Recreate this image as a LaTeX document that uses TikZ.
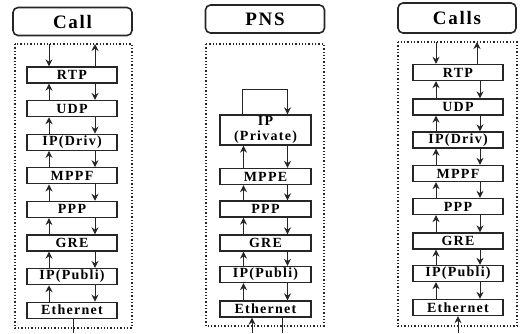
\documentclass[tikz,border=0pt]{standalone}
\usepackage{fontspec}
\setmainfont{Liberation Serif}
\newfontfamily\stackfont{Liberation Serif}[LetterSpace=9]
\usetikzlibrary{arrows.meta}

\begin{document}
\begin{tikzpicture}[
    x=1pt, y=-1pt,
    title/.style={draw=black!85, line width=1.6pt, rectangle, rounded corners=5pt, minimum width=119pt, minimum height=28pt, inner sep=0pt, font=\stackfont\fontsize{19}{21}\selectfont\bfseries},
    layer/.style={draw=black!85, line width=1.3pt, rectangle, minimum width=90pt, minimum height=16pt, inner sep=0pt, font=\stackfont\fontsize{14}{15}\selectfont\bfseries},
    frame/.style={draw=black!85, line width=1.3pt, dotted},
    arrow/.style={-{Stealth[length=7pt, width=7pt]}, black!85, line width=1pt},
    link/.style={black!85, line width=1pt}
]
\useasboundingbox (0,0) rectangle (522,333);

% Frames
\draw[frame] (15,44) rectangle (132,328);
\draw[frame] (206,44) rectangle (324,326);
\draw[frame] (398,42) rectangle (517,326);

% Call stack
\node[title] (call) at (72.5,21.5) {Call};
\node[layer] (c-rtp) at (72,75)    {RTP};
\node[layer] (c-udp) at (72,108.6) {UDP};
\node[layer] (c-ipd) at (72,142.2) {IP(Driv)};
\node[layer] (c-mpp) at (72,175.8) {MPPF};
\node[layer] (c-ppp) at (72,209.4) {PPP};
\node[layer] (c-gre) at (72,243)   {GRE};
\node[layer] (c-ipp) at (72,276.6) {IP(Publi)};
\node[layer] (c-eth) at (72,310.2) {Ethernet};

\coordinate (c-in)   at (49,44);
\coordinate (c-out)  at (95,44);
\coordinate (c-base) at (73,333);

\draw[arrow] (c-in) -- (c-rtp.north -| c-in);
\draw[arrow] (c-rtp.north -| c-out) -- (c-out);
\draw[arrow] ([xshift=-23pt]c-udp.north) -- ([xshift=-23pt]c-rtp.south);
\draw[arrow] ([xshift=23pt]c-rtp.south) -- ([xshift=23pt]c-udp.north);
\draw[arrow] ([xshift=-23pt]c-ipd.north) -- ([xshift=-23pt]c-udp.south);
\draw[arrow] ([xshift=23pt]c-udp.south) -- ([xshift=23pt]c-ipd.north);
\draw[arrow] ([xshift=-23pt]c-mpp.north) -- ([xshift=-23pt]c-ipd.south);
\draw[arrow] ([xshift=23pt]c-ipd.south) -- ([xshift=23pt]c-mpp.north);
\draw[arrow] ([xshift=-23pt]c-ppp.north) -- ([xshift=-23pt]c-mpp.south);
\draw[arrow] ([xshift=23pt]c-mpp.south) -- ([xshift=23pt]c-ppp.north);
\draw[arrow] ([xshift=-23pt]c-gre.north) -- ([xshift=-23pt]c-ppp.south);
\draw[arrow] ([xshift=23pt]c-ppp.south) -- ([xshift=23pt]c-gre.north);
\draw[arrow] ([xshift=-23pt]c-ipp.north) -- ([xshift=-23pt]c-gre.south);
\draw[arrow] ([xshift=23pt]c-gre.south) -- ([xshift=23pt]c-ipp.north);
\draw[arrow] ([xshift=-23pt]c-eth.north) -- ([xshift=-23pt]c-ipp.south);
\draw[arrow] ([xshift=23pt]c-ipp.south) -- ([xshift=23pt]c-eth.north);
\draw[link] (c-eth.south -| c-base) -- (c-base);

% PNS stack
\node[title] (pns) at (265,19) {PNS};
\node[layer, minimum width=91pt, minimum height=30pt, align=center] (p-ip) at (265.5,130) {IP\\(Private)};
\node[layer, minimum width=91pt] (p-mpp) at (265.5,176.5) {MPPE};
\node[layer, minimum width=91pt] (p-ppp) at (265.5,209)   {PPP};
\node[layer, minimum width=91pt] (p-gre) at (265.5,243)   {GRE};
\node[layer, minimum width=91pt] (p-ipp) at (265.5,274.5) {IP(Publi)};
\node[layer, minimum width=91pt] (p-eth) at (265.5,309)   {Ethernet};

\coordinate (p-in)  at (252,333);
\coordinate (p-out) at (282,333);

\draw[arrow] ([xshift=-23pt]p-ip.north) -- ++(0,-25) -| ([xshift=22pt]p-ip.north);
\draw[arrow] ([xshift=-22pt]p-mpp.north) -- ([xshift=-22pt]p-ip.south);
\draw[arrow] ([xshift=22pt]p-ip.south) -- ([xshift=22pt]p-mpp.north);
\draw[arrow] ([xshift=-22pt]p-ppp.north) -- ([xshift=-22pt]p-mpp.south);
\draw[arrow] ([xshift=22pt]p-mpp.south) -- ([xshift=22pt]p-ppp.north);
\draw[arrow] ([xshift=-22pt]p-gre.north) -- ([xshift=-22pt]p-ppp.south);
\draw[arrow] ([xshift=22pt]p-ppp.south) -- ([xshift=22pt]p-gre.north);
\draw[arrow] ([xshift=-22pt]p-ipp.north) -- ([xshift=-22pt]p-gre.south);
\draw[arrow] ([xshift=22pt]p-gre.south) -- ([xshift=22pt]p-ipp.north);
\draw[arrow] ([xshift=-22pt]p-eth.north) -- ([xshift=-22pt]p-ipp.south);
\draw[arrow] ([xshift=22pt]p-ipp.south) -- ([xshift=22pt]p-eth.north);
\draw[arrow] (p-in) -- (p-eth.south -| p-in);
\draw[link] (p-eth.south -| p-out) -- (p-out);

% Calls stack
\node[title, minimum width=118pt, minimum height=30pt] (calls) at (457,18) {Calls};
\node[layer] (s-rtp) at (458,72.5)  {RTP};
\node[layer] (s-udp) at (458,107)   {UDP};
\node[layer] (s-ipd) at (458,140)   {IP(Driv)};
\node[layer] (s-mpp) at (458,173.5) {MPPF};
\node[layer] (s-ppp) at (458,206.5) {PPP};
\node[layer] (s-gre) at (458,241)   {GRE};
\node[layer] (s-ipp) at (458,273.5) {IP(Publi)};
\node[layer] (s-eth) at (458,307.5) {Ethernet};

\coordinate (s-in)   at (436,42);
\coordinate (s-out)  at (477,42);
\coordinate (s-base) at (458,333);

\draw[arrow] (s-in) -- (s-rtp.north -| s-in);
\draw[arrow] (s-rtp.north -| s-out) -- (s-out);
\draw[arrow] ([xshift=-22pt]s-udp.north) -- ([xshift=-22pt]s-rtp.south);
\draw[arrow] ([xshift=22pt]s-rtp.south) -- ([xshift=22pt]s-udp.north);
\draw[arrow] ([xshift=-22pt]s-ipd.north) -- ([xshift=-22pt]s-udp.south);
\draw[arrow] ([xshift=22pt]s-udp.south) -- ([xshift=22pt]s-ipd.north);
\draw[arrow] ([xshift=-22pt]s-mpp.north) -- ([xshift=-22pt]s-ipd.south);
\draw[arrow] ([xshift=22pt]s-ipd.south) -- ([xshift=22pt]s-mpp.north);
\draw[arrow] ([xshift=-22pt]s-ppp.north) -- ([xshift=-22pt]s-mpp.south);
\draw[arrow] ([xshift=22pt]s-mpp.south) -- ([xshift=22pt]s-ppp.north);
\draw[arrow] ([xshift=-22pt]s-gre.north) -- ([xshift=-22pt]s-ppp.south);
\draw[arrow] ([xshift=22pt]s-ppp.south) -- ([xshift=22pt]s-gre.north);
\draw[arrow] ([xshift=-22pt]s-ipp.north) -- ([xshift=-22pt]s-gre.south);
\draw[arrow] ([xshift=22pt]s-gre.south) -- ([xshift=22pt]s-ipp.north);
\draw[arrow] ([xshift=-22pt]s-eth.north) -- ([xshift=-22pt]s-ipp.south);
\draw[arrow] ([xshift=22pt]s-ipp.south) -- ([xshift=22pt]s-eth.north);
\draw[arrow] (s-base) -- (s-eth.south);

\end{tikzpicture}
\end{document}
